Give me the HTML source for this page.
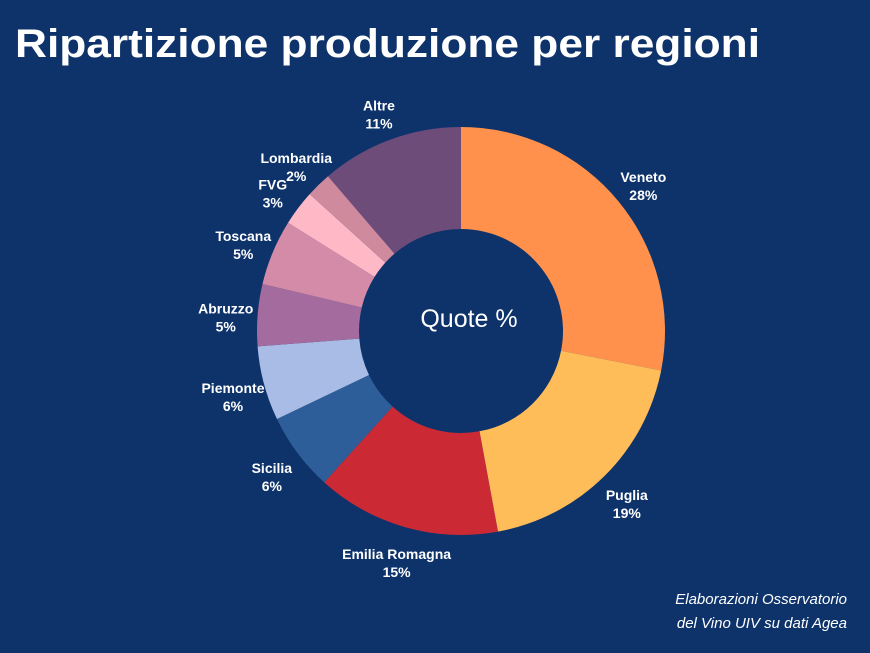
<!DOCTYPE html>
<html><head><meta charset="utf-8"><style>
html,body{margin:0;padding:0;background:#0E336B;}
svg{display:block;}
text{font-family:"Liberation Sans","DejaVu Sans",sans-serif;fill:#fff;}
</style></head><body>
<svg id="chart" width="870" height="653" viewBox="0 0 870 653">
<rect width="870" height="653" fill="#0E336B"/>
<text x="15" y="57" font-size="40" font-weight="bold" textLength="745" lengthAdjust="spacingAndGlyphs">Ripartizione produzione per regioni</text>
<g id="slices"></g>
<g id="labels"></g>
<text x="469" y="327" font-size="25" text-anchor="middle" style="font-weight:300">Quote %</text>
<text x="847" y="604" font-size="15" font-style="italic" text-anchor="end">Elaborazioni Osservatorio</text>
<text x="847" y="628" font-size="15" font-style="italic" text-anchor="end">del Vino UIV su dati Agea</text>
</svg>
<script>
const categories = ["Veneto","Puglia","Emilia Romagna","Sicilia","Piemonte","Abruzzo","Toscana","FVG","Lombardia","Altre"];
const values = [28.1,19.0,14.6,6.2,5.9,4.9,5.2,2.8,2.0,11.3];
const printedValues = ["28%","19%","15%","6%","6%","5%","5%","3%","2%","11%"];
const colors = ["#FF914D","#FFBD59","#CB2A35","#2E5E99","#A9BCE6","#A36B9E","#D48BA8","#FFB8C6","#D08A9E","#6E4C7A"];
const NS="http://www.w3.org/2000/svg";
const cx=461, cy=331, R=204, r0=102, rl=236;
const total=values.reduce((a,b)=>a+b,0);
function pt(a,r){return [cx+r*Math.sin(a), cy-r*Math.cos(a)];}
let acc=0;
const gs=document.getElementById('slices'), gl=document.getElementById('labels');
values.forEach((v,i)=>{
  const a0=acc/total*2*Math.PI; acc+=v; const a1=acc/total*2*Math.PI;
  const large=(a1-a0)>Math.PI?1:0;
  const p0=pt(a0,R),p1=pt(a1,R),q1=pt(a1,r0),q0=pt(a0,r0);
  const p=document.createElementNS(NS,'path');
  p.setAttribute('d',`M${p0[0]},${p0[1]}A${R},${R} 0 ${large} 1 ${p1[0]},${p1[1]}L${q1[0]},${q1[1]}A${r0},${r0} 0 ${large} 0 ${q0[0]},${q0[1]}Z`);
  p.setAttribute('fill',colors[i]);
  
  
  gs.appendChild(p);
  const am=(a0+a1)/2, l=pt(am,rl);
  const t=document.createElementNS(NS,'text');
  t.setAttribute('x',l[0]); t.setAttribute('y',l[1]+1);
  t.setAttribute('text-anchor','middle'); t.setAttribute('font-size','14'); t.setAttribute('font-weight','bold');
  t.textContent=categories[i];
  
  
  gl.appendChild(t);
  const t2=document.createElementNS(NS,'text');
  t2.setAttribute('x',l[0]); t2.setAttribute('y',l[1]+19);
  t2.setAttribute('text-anchor','middle'); t2.setAttribute('font-size','14'); t2.setAttribute('font-weight','bold');
  t2.textContent=printedValues[i];
  
  
  gl.appendChild(t2);
});
</script>
</body></html>
